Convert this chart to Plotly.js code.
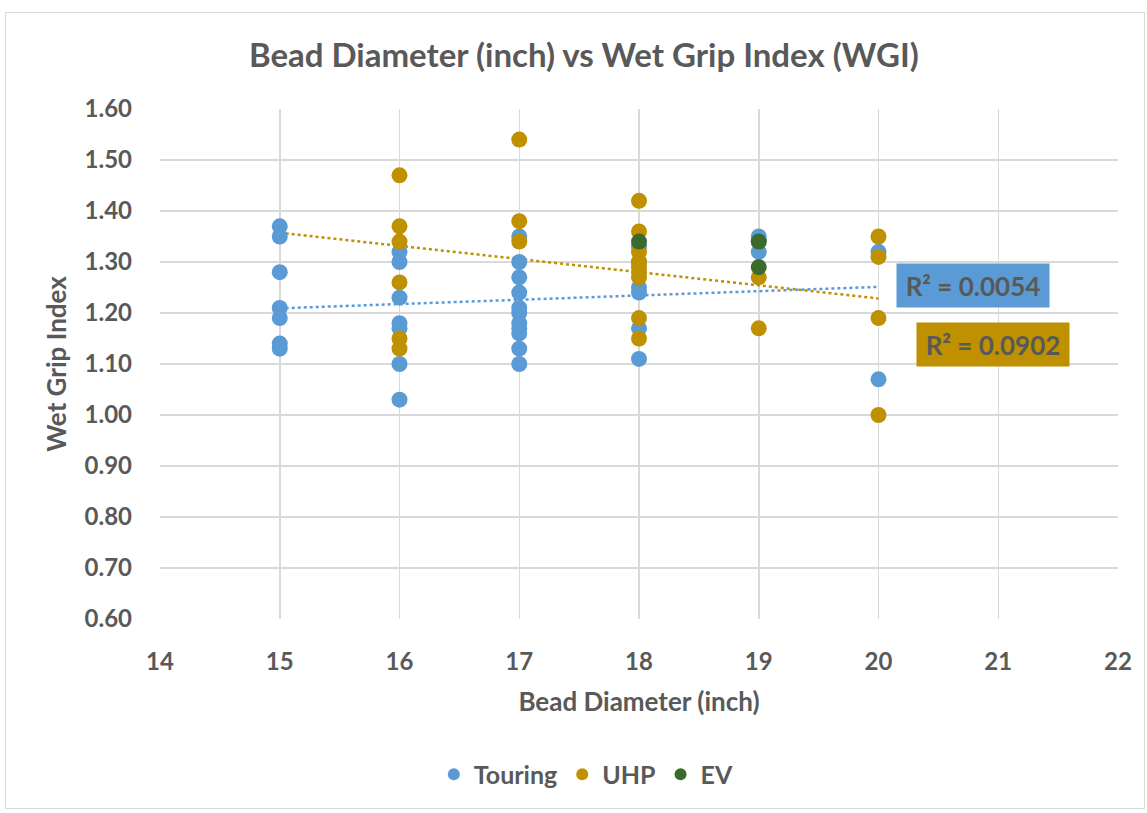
<!DOCTYPE html>
<html>
<head>
<meta charset="utf-8">
<script src="https://cdn.plot.ly/plotly-3.0.1.min.js"></script>
<style>
html,body{margin:0;padding:0;background:#fff;}
#wrap{position:absolute;left:5px;top:12px;width:1140px;height:797px;border:1.5px solid #d9d9d9;box-sizing:border-box;}
#chart{position:absolute;left:0;top:0;width:1147px;height:813px;}
</style>
</head>
<body>
<div id="wrap"></div>
<div id="chart"></div>
<script>
// ---- data ----
const touringX = [15,15,15,15,15,15,15,
                  16,16,16,16,16,16,16,
                  17,17,17,17,17,17,17,17,17,17,17,
                  18,18,18,18,18,18,
                  19,19,19,
                  20,20];
const touringY = [1.37,1.35,1.28,1.21,1.19,1.14,1.13,
                  1.32,1.30,1.23,1.18,1.17,1.10,1.03,
                  1.35,1.30,1.27,1.24,1.21,1.20,1.18,1.17,1.16,1.13,1.10,
                  1.33,1.30,1.25,1.24,1.17,1.11,
                  1.35,1.34,1.32,
                  1.32,1.07];
const uhpX = [16,16,16,16,16,16,
              17,17,17,
              18,18,18,18,18,18,18,18,18,
              19,19,
              20,20,20,20];
const uhpY = [1.47,1.37,1.34,1.26,1.15,1.13,
              1.54,1.38,1.34,
              1.42,1.36,1.32,1.30,1.29,1.28,1.27,1.19,1.15,
              1.27,1.17,
              1.35,1.31,1.19,1.00];
const evX = [18,19,19];
const evY = [1.34,1.34,1.29];
const seriesNames = ["Touring","UHP","EV"];
const r2Labels = ["R² = 0.0054","R² = 0.0902"];
const trendRange = [15,20];
const xTicks = [14,15,16,17,18,19,20,21,22];

const colors = {Touring:"#5B9BD5", UHP:"#BF9000", EV:"#3B6B2A"};
const fontFam = "Lato, 'Open Sans', sans-serif";
const gray = "#595959";
const bold = (s,c)=>({size:s, color:c||gray, family:fontFam, weight:"bold"});

function linreg(xs, ys){
  const n = xs.length;
  const mx = xs.reduce((a,b)=>a+b,0)/n;
  const my = ys.reduce((a,b)=>a+b,0)/n;
  let sxy=0, sxx=0;
  for(let i=0;i<n;i++){ sxy+=(xs[i]-mx)*(ys[i]-my); sxx+=(xs[i]-mx)*(xs[i]-mx); }
  const b = sxy/sxx, a = my - b*mx;
  return x => a + b*x;
}
const fT = linreg(touringX, touringY);
const fU = linreg(uhpX, uhpY);

const mk = (c)=>({color:c, size:16, line:{width:0}});
const traces = [
  {x:trendRange, y:trendRange.map(fT), mode:"lines", line:{color:colors.Touring, width:2.5, dash:"dot"}, showlegend:false, hoverinfo:"skip"},
  {x:trendRange, y:trendRange.map(fU), mode:"lines", line:{color:colors.UHP, width:2.5, dash:"dot"}, showlegend:false, hoverinfo:"skip"},
  {x:touringX, y:touringY, mode:"markers", name:seriesNames[0], marker:mk(colors.Touring)},
  {x:uhpX, y:uhpY, mode:"markers", name:seriesNames[1], marker:mk(colors.UHP)},
  {x:evX, y:evY, mode:"markers", name:seriesNames[2], marker:mk(colors.EV)}
];

const layout = {
  width:1147, height:813,
  paper_bgcolor:"rgba(0,0,0,0)", plot_bgcolor:"#fff",
  margin:{l:160, r:29, t:109, b:194},
  font:{family:fontFam, color:gray},
  title:{text:"Bead Diameter (inch) vs Wet Grip Index (WGI)", x:0.509, xanchor:"center", y:0.932, yanchor:"middle",
         font:bold(33)},
  xaxis:{range:[14,22], tickvals:xTicks, ticktext:xTicks.map(String), showgrid:true, gridcolor:"#d9d9d9", gridwidth:1.5,
         zeroline:false, showline:false, ticks:"", ticklabelstandoff:26,
         tickfont:bold(24),
         title:{text:"Bead Diameter (inch)", font:bold(26), standoff:18}},
  yaxis:{range:[0.6,1.6], dtick:0.1, tick0:0.6, tickformat:".2f", showgrid:true, gridcolor:"#d9d9d9", gridwidth:1.5,
         zeroline:false, showline:false, ticks:"", ticklabelstandoff:27,
         tickfont:bold(24),
         title:{text:"Wet Grip Index", font:bold(26), standoff:10}},
  legend:{orientation:"h", x:0.445, xanchor:"center", y:-0.305, yanchor:"middle",
          font:bold(25), itemsizing:"constant", itemwidth:20, tracegroupgap:0},
  showlegend:true,
  annotations:[
    {x:20.79, y:1.254, xref:"x", yref:"y", text:r2Labels[0], showarrow:false,
     bgcolor:colors.Touring, font:bold(26), borderpad:6, width:140, height:31},
    {x:20.96, y:1.138, xref:"x", yref:"y", text:r2Labels[1], showarrow:false,
     bgcolor:colors.UHP, font:bold(26), borderpad:6, width:140, height:31}
  ]
};
Plotly.newPlot("chart", traces, layout, {displayModeBar:false, staticPlot:true});
</script>
</body>
</html>
